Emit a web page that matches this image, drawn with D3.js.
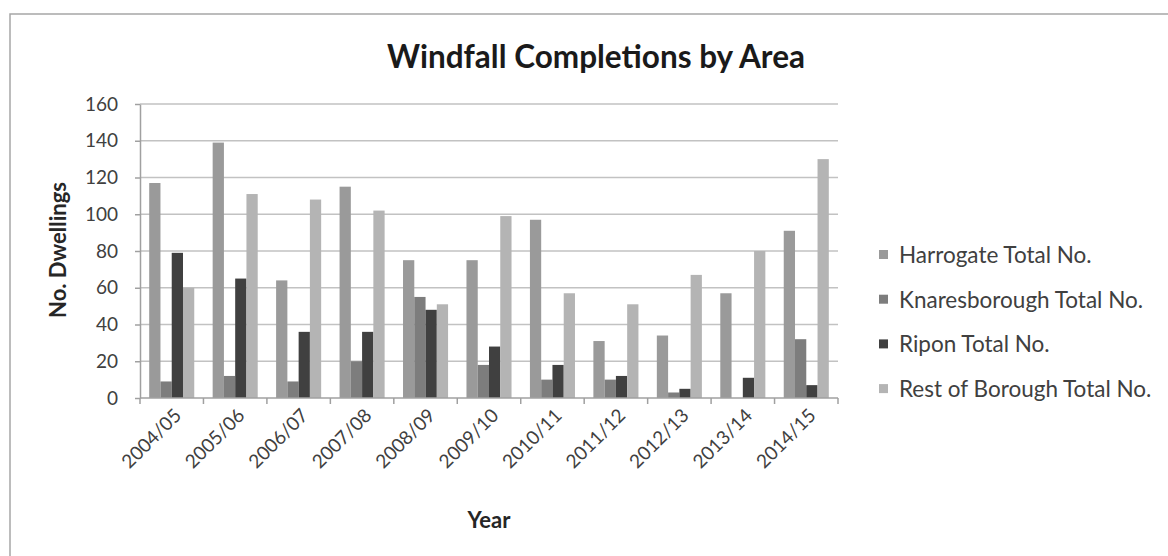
<!DOCTYPE html>
<html>
<head>
<meta charset="utf-8">
<script src="https://cdn.jsdelivr.net/npm/d3@7/dist/d3.min.js"></script>
<style>
  html, body { margin: 0; padding: 0; background: #fff; }
  svg { display: block; font-family: Lato, "Open Sans", sans-serif; }
</style>
</head>
<body>
<svg id="chart" width="1168" height="556"></svg>
<script>
// Windfall completions by area, 2004/05 – 2014/15
const years = ["2004/05", "2005/06", "2006/07", "2007/08", "2008/09", "2009/10",
               "2010/11", "2011/12", "2012/13", "2013/14", "2014/15"];
const seriesNames = ["Harrogate Total No.", "Knaresborough Total No.",
                     "Ripon Total No.", "Rest of Borough Total No."];
const harrogate     = [117, 139, 64, 115, 75, 75, 97, 31, 34, 57, 91];
const knaresborough = [9, 12, 9, 20, 55, 18, 10, 10, 3, 0, 32];
const ripon         = [79, 65, 36, 36, 48, 28, 18, 12, 5, 11, 7];
const restOfBorough = [60, 111, 108, 102, 51, 99, 57, 51, 67, 80, 130];
const yTicks = [0, 20, 40, 60, 80, 100, 120, 140, 160];
const colors = ["#9a9a9a", "#7d7d7d", "#404040", "#b4b4b4"];

const seriesValues = [harrogate, knaresborough, ripon, restOfBorough];

const svg = d3.select("#chart");
const plot = { left: 140, right: 838, top: 104, bottom: 398 };

// chart frame (only the top and left edges fall inside the view)
svg.append("rect")
  .attr("x", 10).attr("y", 14)
  .attr("width", 1200).attr("height", 600)
  .attr("fill", "#fff").attr("stroke", "#a6a6a6").attr("stroke-width", 1.5);

const x0 = d3.scaleBand().domain(years).range([plot.left, plot.right]).paddingInner(0).paddingOuter(0);
const innerPad = 0.145;
const x1 = d3.scaleBand().domain(d3.range(4))
  .range([x0.bandwidth() * innerPad, x0.bandwidth() * (1 - innerPad)]);
const y = d3.scaleLinear().domain([0, 160]).range([plot.bottom, plot.top]);

// horizontal gridlines
svg.append("g")
  .selectAll("line")
  .data(yTicks.filter(t => t > 0))
  .join("line")
  .attr("x1", plot.left).attr("x2", plot.right)
  .attr("y1", d => y(d)).attr("y2", d => y(d))
  .attr("stroke", "#c2c2c2").attr("stroke-width", 1.5);

// bars
const groups = svg.append("g")
  .selectAll("g")
  .data(years)
  .join("g")
  .attr("transform", d => `translate(${x0(d)},0)`);

groups.selectAll("rect")
  .data((yr, i) => seriesValues.map((vals, s) => ({ s, v: vals[i] })))
  .join("rect")
  .attr("x", d => x1(d.s))
  .attr("width", x1.bandwidth())
  .attr("y", d => y(d.v))
  .attr("height", d => y(0) - y(d.v))
  .attr("fill", d => colors[d.s]);

// y axis
const yAxis = svg.append("g")
  .attr("transform", `translate(${plot.left},0)`)
  .call(d3.axisLeft(y).tickValues(yTicks).tickSize(5).tickPadding(17).tickSizeOuter(0));
yAxis.select(".domain").attr("stroke", "#a0a0a0").attr("stroke-width", 1.5);
yAxis.selectAll(".tick line").attr("stroke", "#a0a0a0").attr("stroke-width", 1.5);
yAxis.selectAll(".tick text")
  .attr("font-family", "Lato, sans-serif").attr("font-size", 19).attr("fill", "#404040");

// x axis: ticks sit on the category boundaries
const xAxisG = svg.append("g").attr("transform", `translate(0,${plot.bottom})`);
xAxisG.append("line")
  .attr("x1", plot.left).attr("x2", plot.right)
  .attr("stroke", "#a0a0a0").attr("stroke-width", 1.5);
xAxisG.selectAll("line.tk")
  .data(years.concat(["end"]))
  .join("line").attr("class", "tk")
  .attr("x1", (d, i) => i < years.length ? x0(d) : plot.right)
  .attr("x2", (d, i) => i < years.length ? x0(d) : plot.right)
  .attr("y1", 0).attr("y2", 6)
  .attr("stroke", "#a0a0a0").attr("stroke-width", 1.5);
xAxisG.selectAll("text")
  .data(years)
  .join("text")
  .attr("transform", d => `translate(${x0(d) + x0.bandwidth() / 2 + 6},14) rotate(-45)`)
  .attr("text-anchor", "end")
  .attr("dy", "0.35em")
  .attr("font-size", 19).attr("fill", "#404040")
  .text(d => d);

// titles
svg.append("text")
  .attr("x", 596).attr("y", 68)
  .attr("text-anchor", "middle")
  .attr("font-size", 31.5).attr("font-weight", "bold").attr("fill", "#1a1a1a")
  .text("Windfall Completions by Area");

svg.append("text")
  .attr("transform", `translate(66,250) rotate(-90)`)
  .attr("text-anchor", "middle")
  .attr("font-size", 22).attr("font-weight", "bold").attr("fill", "#262626")
  .text("No. Dwellings");

svg.append("text")
  .attr("x", (plot.left + plot.right) / 2).attr("y", 528)
  .attr("text-anchor", "middle")
  .attr("font-size", 22).attr("font-weight", "bold").attr("fill", "#262626")
  .text("Year");

// legend
const legend = svg.append("g").attr("transform", "translate(879,255)");
const item = legend.selectAll("g")
  .data(seriesNames)
  .join("g")
  .attr("transform", (d, i) => `translate(0,${i * 44.7})`);
item.append("rect")
  .attr("x", 0).attr("y", -5).attr("width", 9).attr("height", 9)
  .attr("fill", (d, i) => colors[i]);
item.append("text")
  .attr("x", 20).attr("y", 0).attr("dy", "0.35em")
  .attr("font-size", 22.5).attr("fill", "#404040")
  .text(d => d);
</script>
</body>
</html>
